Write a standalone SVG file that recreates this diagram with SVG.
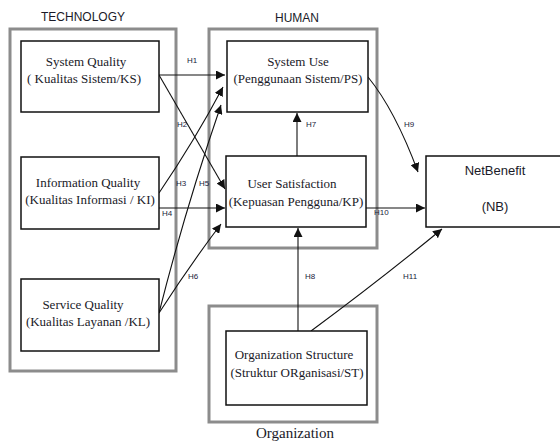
<svg xmlns="http://www.w3.org/2000/svg" width="560" height="441" viewBox="0 0 560 441">
<defs>
<style>
.grp{fill:none;stroke:#8c8c8c;stroke-width:3}
.node{fill:#fff;stroke:#111;stroke-width:1.5}
.nt{font-family:"Liberation Serif","Times New Roman",serif;font-size:13px;fill:#1a1a28;text-anchor:middle}
.gt{font-family:"Liberation Sans",Arial,sans-serif;font-size:12px;fill:#1a1a28;text-anchor:middle}
.hl{font-family:"Liberation Sans",Arial,sans-serif;font-size:8px;fill:#1a1a3a}
.c{fill:none;stroke:#111;stroke-width:1.1;marker-end:url(#ah)}
</style>
<marker id="ah" viewBox="0 0 10 10" refX="10" refY="5" markerWidth="9" markerHeight="9" markerUnits="userSpaceOnUse" orient="auto">
<path d="M0,0 L10,5 L0,10 z" fill="#111"/>
</marker>
</defs>
<rect width="560" height="441" fill="#fff"/>

<g id="group-technology">
<rect class="grp" x="10" y="29" width="166" height="342"/>
<text class="gt" x="83" y="21">TECHNOLOGY</text>
</g>
<g id="group-human">
<rect class="grp" x="209" y="29" width="168" height="219"/>
<text class="gt" x="297" y="22">HUMAN</text>
</g>
<g id="group-organization">
<rect class="grp" x="209" y="306" width="168" height="116"/>
<text class="nt" x="295" y="438" style="font-size:15px">Organization</text>
</g>

<g id="connectors">
<path class="c" d="M159,75 L225,75"/>
<path class="c" d="M159,75 L225,189"/>
<path class="c" d="M159,193 Q195,140 223,87"/>
<path class="c" d="M159,208 L225,208"/>
<path class="c" d="M159,313 Q185,210 221,105"/>
<path class="c" d="M159,313 Q190,265 221,224"/>
<path class="c" d="M297,156 L297,113"/>
<path class="c" d="M298,331 L298,228"/>
<path class="c" d="M368,77 Q395,110 418,172"/>
<path class="c" d="M366,208 L425,208"/>
<path class="c" d="M311,331 Q380,280 442,229"/>
<text class="hl" x="187" y="63">H1</text>
<text class="hl" x="177" y="127">H2</text>
<text class="hl" x="176" y="186">H3</text>
<text class="hl" x="162" y="216">H4</text>
<text class="hl" x="199" y="186">H5</text>
<text class="hl" x="188" y="279">H6</text>
<text class="hl" x="306" y="127">H7</text>
<text class="hl" x="305" y="279">H8</text>
<text class="hl" x="404" y="127">H9</text>
<text class="hl" x="374" y="215">H10</text>
<text class="hl" x="403" y="279">H11</text>
</g>

<g id="node-system-quality">
<rect class="node" x="21" y="41" width="138" height="71"/>
<text class="nt" x="86" y="66">System Quality</text>
<text class="nt" x="84" y="83">( Kualitas Sistem/KS)</text>
</g>
<g id="node-information-quality">
<rect class="node" x="21" y="157" width="138" height="72"/>
<text class="nt" x="88" y="187">Information Quality</text>
<text class="nt" x="90" y="204">(Kualitas Informasi / KI)</text>
</g>
<g id="node-service-quality">
<rect class="node" x="21" y="279" width="138" height="72"/>
<text class="nt" x="83" y="309">Service Quality</text>
<text class="nt" x="88" y="326">(Kualitas Layanan /KL)</text>
</g>
<g id="node-system-use">
<rect class="node" x="227" y="41" width="141" height="71"/>
<text class="nt" x="298" y="66">System Use</text>
<text class="nt" x="298" y="83">(Penggunaan Sistem/PS)</text>
</g>
<g id="node-user-satisfaction">
<rect class="node" x="226" y="156" width="140" height="71"/>
<text class="nt" x="292" y="188">User Satisfaction</text>
<text class="nt" x="296" y="206">(Kepuasan Pengguna/KP)</text>
</g>
<g id="node-netbenefit">
<rect class="node" x="426" y="156" width="140" height="71"/>
<text class="gt" x="495" y="175" style="font-size:13px">NetBenefit</text>
<text class="gt" x="495" y="211" style="font-size:13px">(NB)</text>
</g>
<g id="node-organization-structure">
<rect class="node" x="226" y="331" width="141" height="74"/>
<text class="nt" x="294" y="359">Organization Structure</text>
<text class="nt" x="297" y="377">(Struktur ORganisasi/ST)</text>
</g>
</svg>
